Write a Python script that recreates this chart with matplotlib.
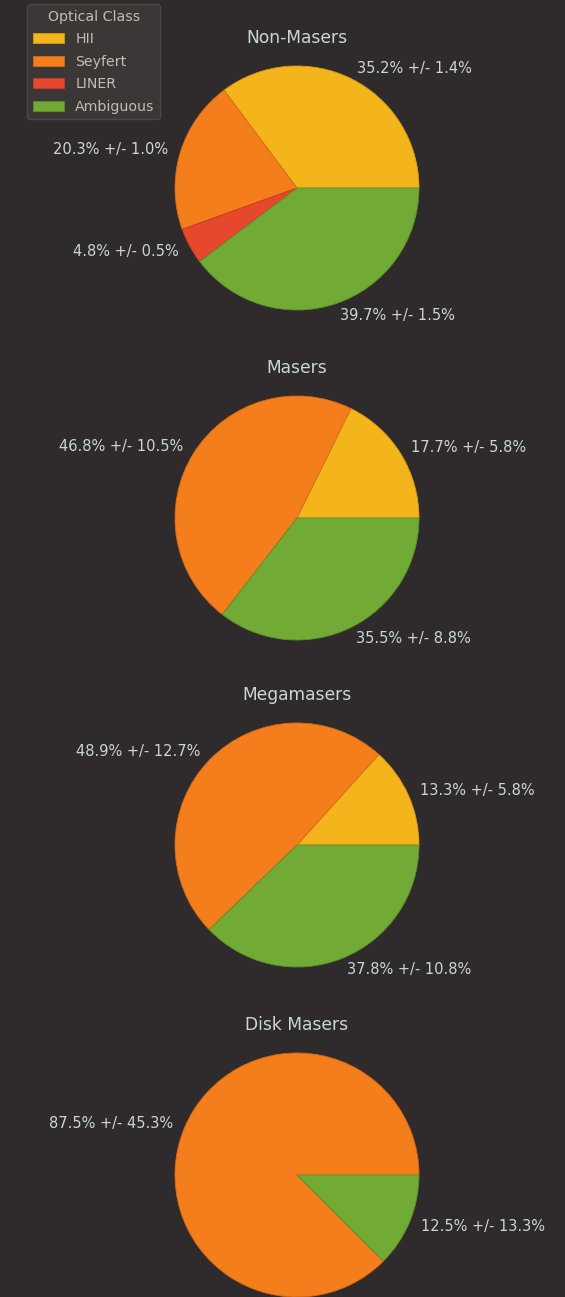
import matplotlib
matplotlib.use('Agg')
import matplotlib.pyplot as plt

matplotlib.rcParams.update({'font.size': 10.5, 'font.family': 'DejaVu Sans'})

classes = ['HII', 'Seyfert', 'LINER', 'Ambiguous']
colors = ['#f4b41b', '#f47e1b', '#e6482e', '#71aa34']
edges = ['#d89a14', '#d96a12', '#c83a24', '#5e9028']

titles = ['Non-Masers', 'Masers', 'Megamasers', 'Disk Masers']
percents = [
    [35.2, 20.3, 4.8, 39.7],
    [17.7, 46.8, 0.0, 35.5],
    [13.3, 48.9, 0.0, 37.8],
    [0.0, 87.5, 0.0, 12.5],
]
errors = [
    [1.4, 1.0, 0.5, 1.5],
    [5.8, 10.5, 0.0, 8.8],
    [5.8, 12.7, 0.0, 10.8],
    [0.0, 45.3, 0.0, 13.3],
]

bg = '#2f2b2c'
txt = '#c8d6d6'

W, H = 565, 1297
f = plt.figure(figsize=(W / 100, H / 100), dpi=100, facecolor=bg)

centers_y = [188, 518, 845, 1175]
cx = 297
size = 305

for i in range(4):
    ax = f.add_axes([(cx - size / 2) / W, 1 - (centers_y[i] + size / 2) / H,
                     size / W, size / H])
    ax.set_facecolor(bg)
    # skip empty classes so they get no wedge or label
    vals = [v for v in percents[i] if v > 0]
    cols = [c for c, v in zip(colors, percents[i]) if v > 0]
    ecs = [c for c, v in zip(edges, percents[i]) if v > 0]
    labs = ['%.1f%% +/- %.1f%%' % (v, e)
            for v, e in zip(percents[i], errors[i]) if v > 0]
    wedges, texts = ax.pie(vals, colors=cols, labels=labs, startangle=0,
                           counterclock=True, labeldistance=1.1,
                           wedgeprops={'linewidth': 0.6})
    for w, ec in zip(wedges, ecs):
        w.set_edgecolor(ec)
    for t in texts:
        t.set_color(txt)
        t.set_fontsize(10.5)
    ax.text(0, 1.23, titles[i], ha='center', va='center', color=txt,
            fontsize=12.3)

handles = [plt.Rectangle((0, 0), 1, 1, facecolor=c, edgecolor=e, linewidth=0.6)
           for c, e in zip(colors, edges)]
leg = f.legend(handles, classes, title='Optical Class', loc='upper left',
               bbox_to_anchor=(27 / W, 1 - 4 / H), fontsize=10.2,
               title_fontsize=10.2, facecolor='#3a3736', edgecolor='#4a4746',
               framealpha=1, borderaxespad=0, handlelength=2.2,
               labelspacing=0.6)
for t in leg.get_texts():
    t.set_color('#c4bcb4')
leg.get_title().set_color('#c4bcb4')

f.savefig('out.png', dpi=100, facecolor=bg)
